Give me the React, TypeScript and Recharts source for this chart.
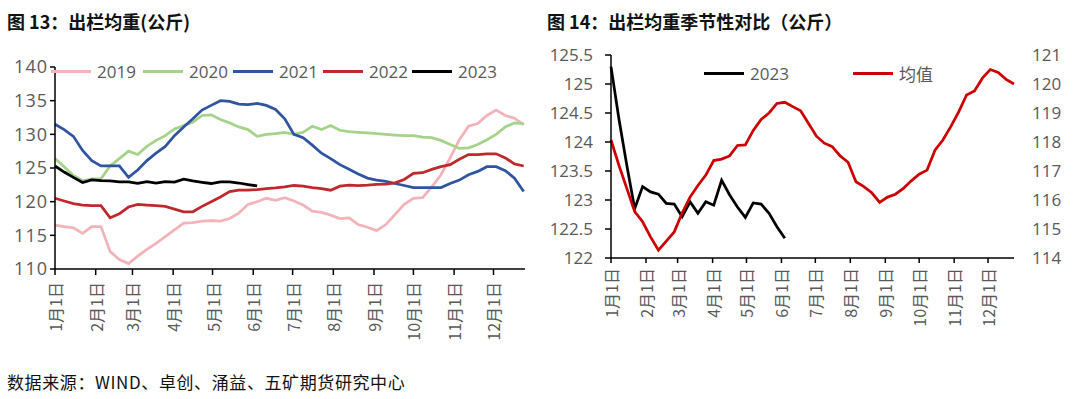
import React from 'react';
import { LineChart, Line, XAxis, YAxis } from 'recharts';

// weekly series, week 0 = 1月1日
const S2019 = [116.5, 116.3, 116.1, 115.3, 116.3, 116.3, 112.6, 111.4, 110.8, 111.9, 112.9, 113.8, 114.8, 115.8, 116.8, 116.9, 117.1, 117.2, 117.1, 117.5, 118.3, 119.6, 120.0, 120.5, 120.2, 120.6, 120.1, 119.5, 118.6, 118.4, 118.0, 117.5, 117.6, 116.6, 116.2, 115.7, 116.6, 118.1, 119.6, 120.5, 120.6, 122.2, 124.0, 126.5, 129.2, 131.2, 131.6, 132.8, 133.6, 132.8, 132.4, 131.4];
const S2020 = [126.4, 125.2, 123.9, 123.1, 123.4, 123.4, 125.3, 126.4, 127.5, 127.0, 128.2, 129.1, 129.8, 130.8, 131.3, 131.8, 132.8, 132.9, 132.2, 131.7, 131.1, 130.7, 129.7, 130.0, 130.1, 130.3, 130.0, 130.3, 131.2, 130.7, 131.3, 130.6, 130.4, 130.3, 130.2, 130.1, 130.0, 129.9, 129.8, 129.8, 129.6, 129.5, 129.1, 128.5, 127.9, 128.0, 128.5, 129.2, 130.0, 131.1, 131.7, 131.6];
const S2021 = [131.5, 130.7, 129.7, 127.6, 126.1, 125.3, 125.3, 125.3, 123.6, 124.7, 126.1, 127.2, 128.2, 129.8, 131.1, 132.3, 133.6, 134.3, 135.0, 134.9, 134.5, 134.4, 134.6, 134.3, 133.7, 132.3, 130.0, 129.5, 128.4, 127.2, 126.4, 125.5, 124.8, 124.1, 123.5, 123.2, 123.0, 122.7, 122.4, 122.1, 122.1, 122.1, 122.1, 122.7, 123.2, 124.0, 124.5, 125.2, 125.2, 124.6, 123.5, 121.5];
const S2022 = [120.5, 120.1, 119.7, 119.5, 119.4, 119.4, 117.6, 118.2, 119.2, 119.6, 119.5, 119.4, 119.3, 118.9, 118.5, 118.5, 119.3, 120.0, 120.7, 121.5, 121.7, 121.7, 121.8, 121.95, 122.05, 122.2, 122.4, 122.3, 122.1, 121.95, 121.7, 122.3, 122.45, 122.4, 122.45, 122.55, 122.6, 122.8, 123.3, 124.2, 124.3, 124.8, 125.2, 125.5, 126.3, 127.0, 127.0, 127.1, 127.1, 126.5, 125.6, 125.3];
const S2023 = [125.3, 124.4, 123.6, 122.85, 123.23, 123.14, 123.1, 122.94, 122.93, 122.71, 122.97, 122.77, 122.97, 122.91, 123.34, 123.09, 122.88, 122.7, 122.95, 122.93, 122.77, 122.54, 122.34];
const MEAN = [118.07, 117.2, 116.4, 115.6, 115.25, 114.73, 114.27, 114.58, 114.9, 115.55, 116.1, 116.5, 116.86, 117.36, 117.41, 117.52, 117.88, 117.9, 118.4, 118.78, 119.0, 119.33, 119.37, 119.22, 119.08, 118.64, 118.2, 117.96, 117.84, 117.52, 117.3, 116.63, 116.46, 116.25, 115.92, 116.1, 116.2, 116.4, 116.66, 116.89, 117.03, 117.72, 118.07, 118.53, 119.04, 119.62, 119.76, 120.2, 120.5, 120.4, 120.16, 120.0];

const MONTH_DAYS = [0, 31, 59, 90, 120, 151, 181, 212, 243, 273, 304, 334];
const MONTH_LABELS = ['1月1日', '2月1日', '3月1日', '4月1日', '5月1日', '6月1日', '7月1日', '8月1日', '9月1日', '10月1日', '11月1日', '12月1日'];
const LEFT_TICKS = [110, 115, 120, 125, 130, 135, 140];
const R_LEFT_TICKS = [122, 122.5, 123, 123.5, 124, 124.5, 125, 125.5];
const R_RIGHT_TICKS = [114, 115, 116, 117, 118, 119, 120, 121];

const data = S2019.map((_, i) => ({
  d: i * 7,
  y2019: S2019[i],
  y2020: S2020[i],
  y2021: S2021[i],
  y2022: S2022[i],
  y2023: S2023[i],
  mean: MEAN[i],
}));

const GRAY = '#595959';
const NUM_FONT = '"Open Sans", sans-serif';
const CJK_FONT = '"Noto Sans CJK SC", sans-serif';

const MonthTick = (props: any) => {
  const { x, y, payload } = props;
  const idx = MONTH_DAYS.indexOf(payload.value);
  return (
    <g transform={`translate(${x},${y})`}>
      <text transform="rotate(-90)" textAnchor="end" dominantBaseline="central" fill={GRAY} fontSize={16} fontFamily={CJK_FONT}>
        {MONTH_LABELS[idx]}
      </text>
    </g>
  );
};

const LegendItem = ({ x, y, color, label }: { x: number; y: number; color: string; label: string }) => (
  <div style={{ position: 'absolute', left: x, top: y - 12, height: 24, display: 'flex', alignItems: 'center', whiteSpace: 'nowrap' }}>
    <div style={{ width: 40, height: 3, background: color, marginRight: 6 }} />
    <span style={{ fontFamily: `"Open Sans", ${CJK_FONT}`, fontSize: 17, color: GRAY }}>{label}</span>
  </div>
);

export default function App() {
  return (
    <div style={{ position: 'absolute', left: 0, top: 0, width: 1080, height: 399, background: '#fff', overflow: 'hidden' }}>
      <div style={{ position: 'absolute', left: 7, top: 8, fontFamily: CJK_FONT, fontWeight: 700, fontSize: 18, color: '#111', whiteSpace: 'nowrap' }}>
        图 13：出栏均重(公斤)
      </div>
      <div style={{ position: 'absolute', left: 547, top: 8, fontFamily: CJK_FONT, fontWeight: 700, fontSize: 18, color: '#111', whiteSpace: 'nowrap' }}>
        图 14：出栏均重季节性对比（公斤）
      </div>

      <div style={{ position: 'absolute', left: 0, top: 0 }}>
        <LineChart width={540} height={399} data={data} margin={{ top: 67, right: 15, bottom: 50, left: 5 }}>
          <XAxis
            type="number"
            dataKey="d"
            domain={[0, 358]}
            ticks={MONTH_DAYS}
            interval={0}
            height={80}
            tick={<MonthTick />}
            tickSize={6}
            tickMargin={7}
            axisLine={{ stroke: '#000', strokeWidth: 1.5 }}
            tickLine={{ stroke: '#000', strokeWidth: 1.5 }}
          />
          <YAxis
            domain={[110, 140]}
            ticks={LEFT_TICKS}
            interval={0}
            width={50}
            tickSize={5}
            tickMargin={2}
            axisLine={{ stroke: '#000', strokeWidth: 1.5 }}
            tickLine={{ stroke: '#000', strokeWidth: 1.5 }}
            tick={{ fill: GRAY, fontSize: 18, fontFamily: NUM_FONT, letterSpacing: 1 }}
          />
          <Line dataKey="y2019" stroke="#F4B3B8" strokeWidth={2.75} dot={false} isAnimationActive={false} />
          <Line dataKey="y2020" stroke="#A5D38A" strokeWidth={2.75} dot={false} isAnimationActive={false} />
          <Line dataKey="y2021" stroke="#2F55A0" strokeWidth={2.75} dot={false} isAnimationActive={false} />
          <Line dataKey="y2022" stroke="#C0282E" strokeWidth={2.75} dot={false} isAnimationActive={false} />
          <Line dataKey="y2023" stroke="#000" strokeWidth={2.75} dot={false} isAnimationActive={false} />
        </LineChart>
      </div>
      <LegendItem x={51} y={71} color="#F4B3B8" label="2019" />
      <LegendItem x={143} y={71} color="#A5D38A" label="2020" />
      <LegendItem x={233} y={71} color="#2F55A0" label="2021" />
      <LegendItem x={323} y={71} color="#C0282E" label="2022" />
      <LegendItem x={412} y={71} color="#000" label="2023" />

      <div style={{ position: 'absolute', left: 540, top: 0 }}>
        <LineChart width={540} height={399} data={data} margin={{ top: 55, right: 6, bottom: 61, left: 11 }}>
          <XAxis
            type="number"
            dataKey="d"
            domain={[0, 357]}
            ticks={MONTH_DAYS}
            interval={0}
            height={80}
            tick={<MonthTick />}
            tickSize={5}
            tickMargin={5}
            axisLine={{ stroke: '#000', strokeWidth: 1.5 }}
            tickLine={{ stroke: '#000', strokeWidth: 1.5 }}
          />
          <YAxis
            yAxisId="l"
            domain={[122, 125.5]}
            ticks={R_LEFT_TICKS}
            interval={0}
            width={60}
            tickSize={6}
            tickMargin={12}
            axisLine={{ stroke: '#000', strokeWidth: 1.5 }}
            tickLine={{ stroke: '#000', strokeWidth: 1.5 }}
            tick={{ fill: GRAY, fontSize: 17, fontFamily: NUM_FONT }}
          />
          <YAxis
            yAxisId="r"
            orientation="right"
            domain={[114, 121]}
            ticks={R_RIGHT_TICKS}
            interval={0}
            width={60}
            tickSize={6}
            tickMargin={12}
            axisLine={false}
            tickLine={false}
            tick={{ fill: GRAY, fontSize: 17, fontFamily: NUM_FONT, textAnchor: 'start' }}
          />
          <Line yAxisId="l" dataKey="y2023" stroke="#000" strokeWidth={2.75} dot={false} isAnimationActive={false} />
          <Line yAxisId="r" dataKey="mean" stroke="#CC0000" strokeWidth={2.75} dot={false} isAnimationActive={false} />
        </LineChart>
      </div>
      <LegendItem x={704} y={73} color="#000" label="2023" />
      <LegendItem x={853} y={73} color="#CC0000" label="均值" />

      <div style={{ position: 'absolute', left: 7, top: 369, fontFamily: CJK_FONT, fontSize: 17, letterSpacing: 0.6, color: '#111', whiteSpace: 'nowrap' }}>
        数据来源：WIND、卓创、涌益、五矿期货研究中心
      </div>
    </div>
  );
}
